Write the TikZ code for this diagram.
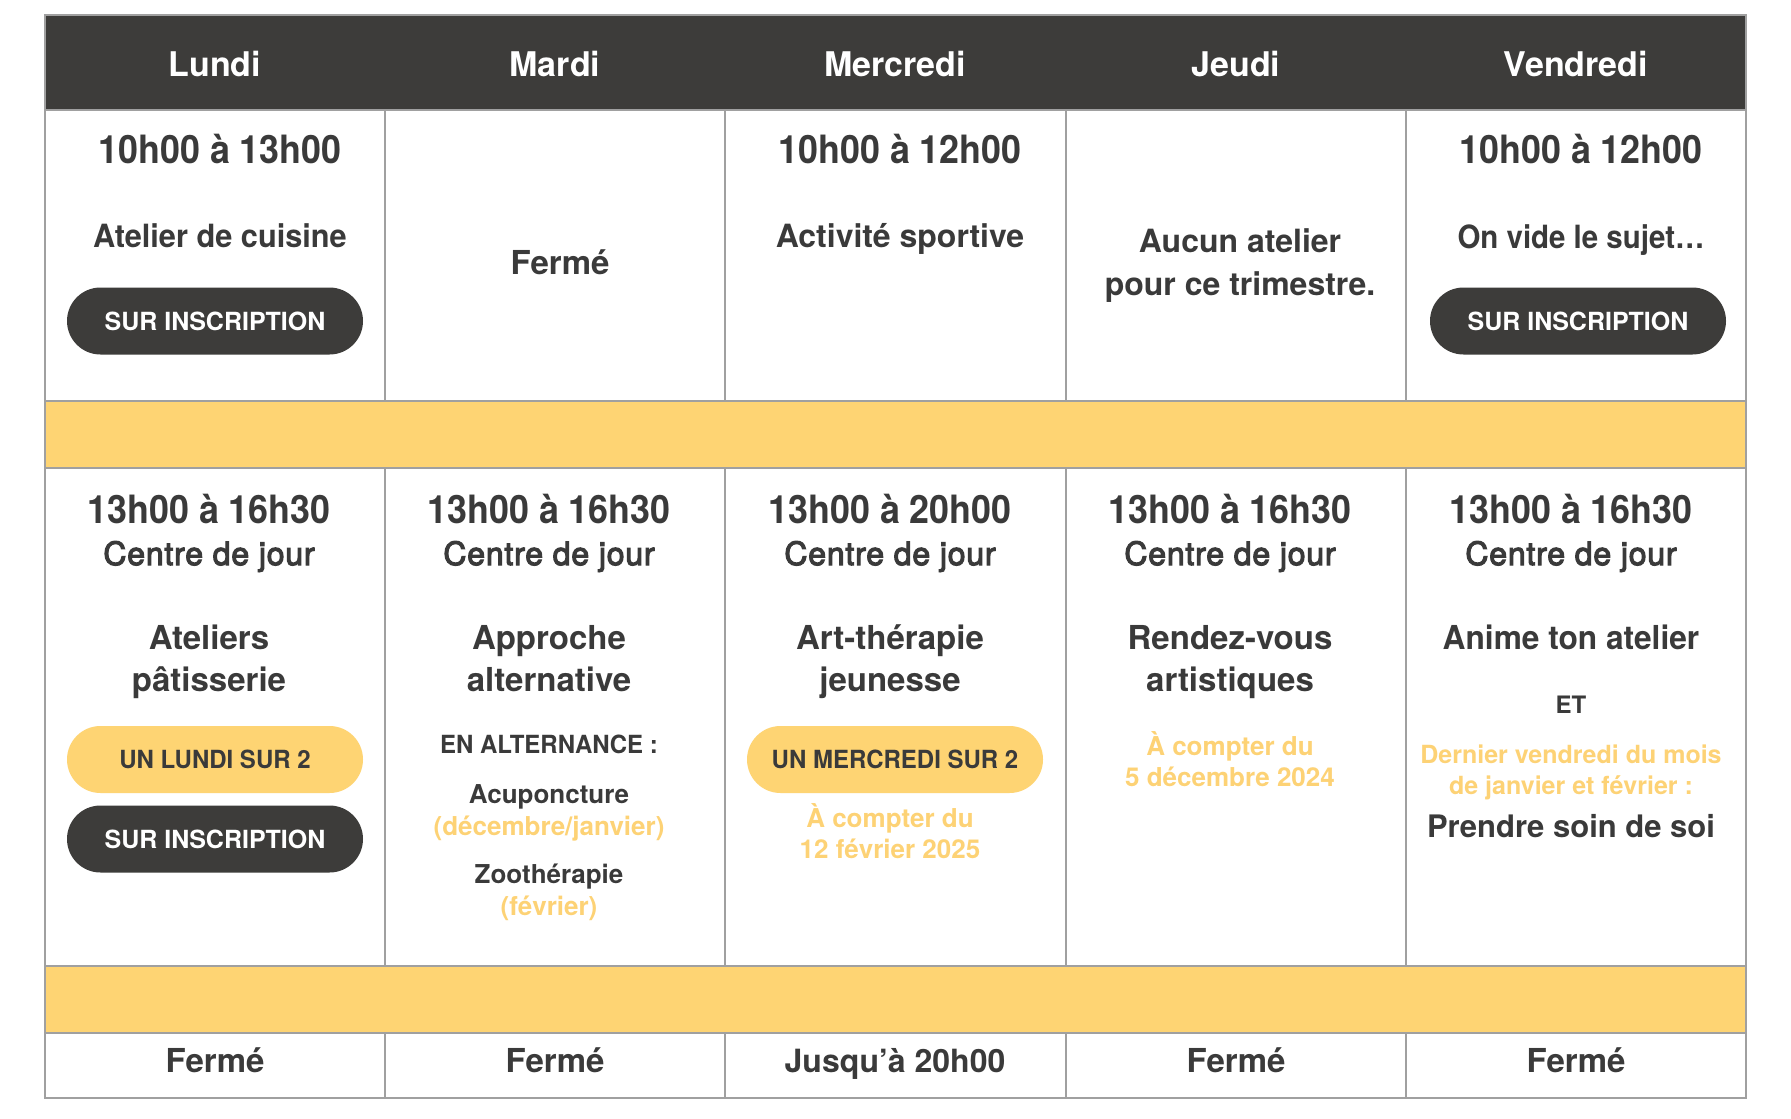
\documentclass[tikz,border=0pt]{standalone}
\usepackage{fontspec}
\setmainfont{TeX Gyre Heros}
\newfontfamily\timefont{TeX Gyre Heros}[FakeStretch=0.92]
\newfontfamily\narrowfont{TeX Gyre Heros}[FakeStretch=0.96]
\newfontfamily\medfont{TeX Gyre Heros}[FakeBold=3.5,LetterSpace=2.5]
\definecolor{dark}{HTML}{3D3C3A}
\definecolor{ink}{HTML}{3A3A3A}
\definecolor{band}{HTML}{FED473}
\definecolor{ytext}{HTML}{FDD275}
\definecolor{grid}{HTML}{A0A0A0}
\tikzset{
  x=1pt,y=-1pt,
  t/.style={inner sep=0pt,anchor=base,text=ink,font=\bfseries\fontsize{#1}{#1}\selectfont},
  tn/.style={inner sep=0pt,anchor=base,text=ink,font=\narrowfont\bfseries\fontsize{#1}{#1}\selectfont},
  tm/.style={inner sep=0pt,anchor=base,text=ink,font=\timefont\bfseries\fontsize{39}{39}\selectfont},
  hd/.style={inner sep=0pt,anchor=base,text=white,font=\bfseries\fontsize{34}{34}\selectfont},
  med/.style={inner sep=0pt,anchor=base,text=ink,font=\medfont\fontsize{#1}{#1}\selectfont},
  yt/.style={inner sep=0pt,anchor=base,text=ytext,font=\bfseries\fontsize{#1}{#1}\selectfont},
  pilldark/.style={fill=dark,rounded corners=33.5pt,minimum width=296pt,minimum height=67pt,inner sep=0pt,text=white,font=\bfseries\fontsize{25}{25}\selectfont},
  pillyel/.style={fill=band,rounded corners=33.5pt,minimum width=296pt,minimum height=67pt,inner sep=0pt,text=ink,font=\narrowfont\bfseries\fontsize{25}{25}\selectfont},
  gridline/.style={draw=grid,line width=1.5pt},
}
\begin{document}
\begin{tikzpicture}
\useasboundingbox (0,0) rectangle (1791,1119);
\fill[white] (0,0) rectangle (1791,1119);
% header and bands
\fill[dark] (45,15) rectangle (1746,110);
\fill[band] (45,401) rectangle (1746,468);
\fill[band] (45,966) rectangle (1746,1033);
% grid
\draw[gridline] (45,15) rectangle (1746,1098);
\foreach \y in {110,401,468,966,1033} \draw[gridline] (45,\y) -- (1746,\y);
\foreach \x in {385,725,1066,1406} {
  \draw[gridline] (\x,110) -- (\x,401);
  \draw[gridline] (\x,468) -- (\x,966);
  \draw[gridline] (\x,1033) -- (\x,1098);
}
% header
\node[hd] (h1) at (215,76) {Lundi};
\node[hd] (h2) at (555,76) {Mardi};
\node[hd] (h3) at (895,76) {Mercredi};
\node[hd] (h4) at (1236,76) {Jeudi};
\node[hd] (h5) at (1576,76) {Vendredi};
% row 1
\node[tm] (a1) at (220,163) {10h00 à 13h00};
\node[tn=32] (a2) at (220,247) {Atelier de cuisine};
\node[pilldark] (a3) at (215,321) {SUR INSCRIPTION};
\node[t=33] (b1) at (560,274) {Fermé};
\node[tm] (c1) at (900,163) {10h00 à 12h00};
\node[t=32] (c2) at (900,247) {Activité sportive};
\node[t=32] (d1) at (1240,252) {Aucun atelier};
\node[t=32] (d2) at (1240,295) {pour ce trimestre.};
\node[tm] (e1) at (1581,163) {10h00 à 12h00};
\node[inner sep=0pt,anchor=base,text=ink,font=\timefont\bfseries\fontsize{32}{32}\selectfont] (e2) at (1581,248) {On vide le sujet…};
\node[pilldark] (e3) at (1578,321) {SUR INSCRIPTION};
% row 2 - Lundi
\node[tm] (f1) at (209,523) {13h00 à 16h30};
\node[med=32] (f2) at (209,565) {Centre de jour};
\node[t=33] (f3) at (209,649) {Ateliers};
\node[t=33] (f4) at (209,691) {pâtisserie};
\node[pillyel] (f5) at (215,759.5) {UN LUNDI SUR 2};
\node[pilldark] (f6) at (215,839) {SUR INSCRIPTION};
% Mardi
\node[tm] (g1) at (549,523) {13h00 à 16h30};
\node[med=32] (g2) at (549,565) {Centre de jour};
\node[t=33] (g3) at (549,649) {Approche};
\node[t=33] (g4) at (549,691) {alternative};
\node[tn=25] (g5) at (549,753) {EN ALTERNANCE :};
\node[t=26] (g6) at (549,803) {Acuponcture};
\node[yt=26] (g7) at (549,835) {(décembre/janvier)};
\node[t=26] (g8) at (549,883) {Zoothérapie};
\node[yt=26] (g9) at (549,915) {(février)};
% Mercredi
\node[tm] (k1) at (890,523) {13h00 à 20h00};
\node[med=32] (k2) at (890,565) {Centre de jour};
\node[t=33] (k3) at (890,649) {Art-thérapie};
\node[t=33] (k4) at (890,691) {jeunesse};
\node[pillyel] (k5) at (895,759.5) {UN MERCREDI SUR 2};
\node[yt=26] (k6) at (890,827) {À compter du};
\node[yt=26] (k7) at (890,858) {12 février 2025};
% Jeudi
\node[tm] (m1) at (1230,523) {13h00 à 16h30};
\node[med=32] (m2) at (1230,565) {Centre de jour};
\node[t=33] (m3) at (1230,649) {Rendez-vous};
\node[t=33] (m4) at (1230,691) {artistiques};
\node[yt=26] (m5) at (1230,755) {À compter du};
\node[yt=26] (m6) at (1230,786) {5 décembre 2024};
% Vendredi
\node[tm] (n1) at (1571,523) {13h00 à 16h30};
\node[med=32] (n2) at (1571,565) {Centre de jour};
\node[tn=33] (n3) at (1571,649) {Anime ton atelier};
\node[t=24] (n4) at (1571,713) {ET};
\node[yt=25] (n5) at (1571,763) {Dernier vendredi du mois};
\node[yt=25] (n6) at (1571,794) {de janvier et février :};
\node[t=31] (n7) at (1571,837) {Prendre soin de soi};
% bottom row
\node[t=33] (p1) at (215,1072) {Fermé};
\node[t=33] (p2) at (555,1072) {Fermé};
\node[t=32] (p3) at (895,1072) {Jusqu’à 20h00};
\node[t=33] (p4) at (1236,1072) {Fermé};
\node[t=33] (p5) at (1576,1072) {Fermé};
\end{tikzpicture}
\end{document}
